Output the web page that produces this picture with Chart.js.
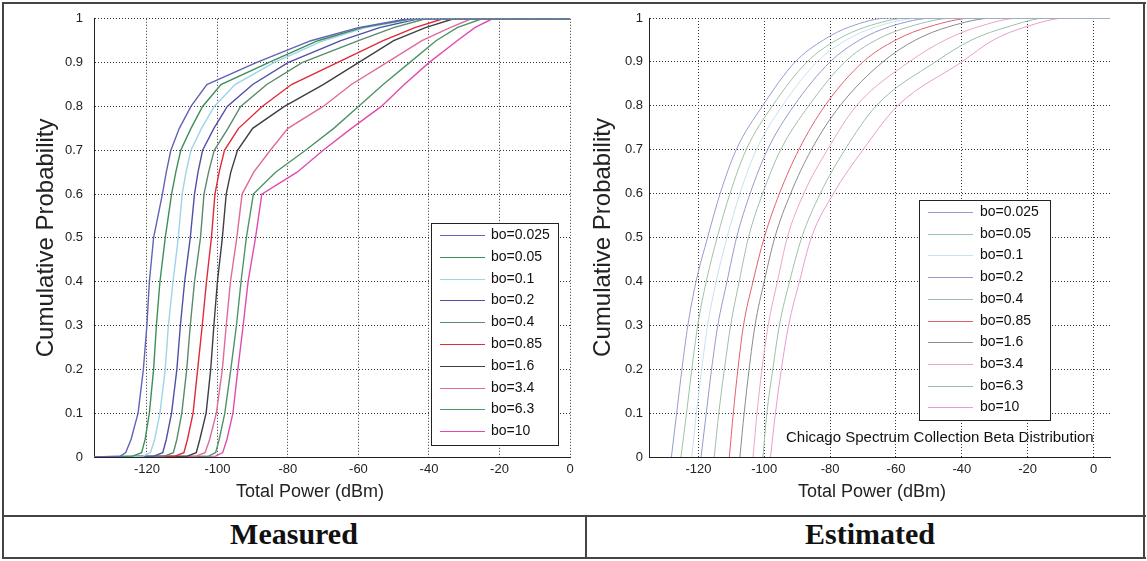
<!DOCTYPE html>
<html>
<head>
<meta charset="utf-8">
<script src="https://cdn.jsdelivr.net/npm/chart.js@4.4.1/dist/chart.umd.min.js"></script>
<style>
html, body { margin: 0; padding: 0; background: #fff; }
body { width: 1147px; height: 561px; position: relative; overflow: hidden; }
.cv { position: absolute; top: 0; height: 514px; }
#leftBox { left: 0; width: 580px; }
#rightBox { left: 586px; width: 561px; }
.rule { position: absolute; background: #444; z-index: 5; }
.cap { position: absolute; top: 517px; height: 40px; line-height: 40px; text-align: center;
       font: bold 30px "Liberation Serif", "Times New Roman", serif; color: #111; }
</style>
</head>
<body>
<div class="cv" id="leftBox"><canvas id="chart1"></canvas></div>
<div class="cv" id="rightBox"><canvas id="chart2"></canvas></div>

<div class="rule" style="left:2px;top:2px;width:1144px;height:2px"></div>
<div class="rule" style="left:2px;top:2px;width:2px;height:557px"></div>
<div class="rule" style="left:1143px;top:2px;width:2px;height:557px"></div>
<div class="rule" style="left:2px;top:557px;width:1144px;height:2px"></div>
<div class="rule" style="left:2px;top:515px;width:1144px;height:2px"></div>
<div class="rule" style="left:585px;top:515px;width:2px;height:43px"></div>

<div class="cap" style="left:4px;width:580px">Measured</div>
<div class="cap" style="left:588px;width:564px">Estimated</div>

<script>
// series names
const boLabels = ['bo=0.025', 'bo=0.05', 'bo=0.1', 'bo=0.2', 'bo=0.4',
                  'bo=0.85', 'bo=1.6', 'bo=3.4', 'bo=6.3', 'bo=10'];

const xTicks = [-120, -100, -80, -60, -40, -20, 0];

// measured CDFs: power (dBm) at which each probability level is reached
const measProb = [0.002, 0.01, 0.04, 0.1, 0.2, 0.3, 0.4, 0.5, 0.6, 0.65, 0.7, 0.75, 0.8, 0.85, 0.9, 0.95, 0.98, 1];
const meas025 = [-127.5, -126, -124.5, -122.5, -121, -120, -119.3, -118.1, -115.6, -114.5, -113.2, -110.8, -107.5, -103, -89, -73.5, -60, -46];
const meas05  = [-124, -121.5, -120.5, -119.3, -118.1, -117.3, -116.3, -114.8, -113, -111.8, -110.4, -107.5, -104.2, -99, -85.5, -71.5, -59, -45];
const meas1   = [-121, -119, -117.8, -116.3, -114.8, -113.9, -112.6, -111.1, -110, -108.9, -107.5, -104.5, -100.9, -95, -84, -70, -58, -44];
const meas2   = [-118, -115.5, -114.5, -113, -111.5, -110.5, -109.3, -107.7, -106.5, -105.5, -104.2, -101, -97.2, -90, -80, -65, -54, -43];
const meas4   = [-115, -112.5, -111.5, -110.1, -108.7, -107.7, -106.5, -104.8, -103.8, -102.5, -100.9, -97, -93.4, -86, -76, -60, -50, -41];
const meas85  = [-112, -109.5, -108.5, -106.9, -105.6, -104.3, -103.1, -101.7, -100.7, -99.5, -98, -94, -87.3, -79, -66, -53, -44, -36];
const meas16  = [-108.5, -106, -105, -103.2, -101.9, -101, -100, -98.6, -97.5, -96.2, -94.3, -90, -81, -70, -60, -50, -41, -33];
const meas34  = [-106, -103.5, -102.2, -100.3, -98.6, -97.5, -96.3, -94.5, -93, -89.7, -85, -80, -70, -62, -52, -42, -34, -28];
const meas63  = [-102.5, -100.5, -99.5, -97.9, -96.2, -94.6, -93.3, -91.8, -89.8, -83.5, -75, -67, -60, -53, -45.5, -38, -32, -25];
const meas10  = [-100.5, -98.5, -97.3, -95.6, -94.2, -92.7, -91.3, -89.2, -87.4, -77.4, -70, -62, -53.5, -47, -40, -32, -27, -22];

// estimated (beta distribution) CDFs
const estProb = [0, 0.1, 0.2, 0.3, 0.4, 0.5, 0.6, 0.7, 0.8, 0.9, 0.95, 0.98, 1];
const est025 = [-128.2, -126.6, -125.0, -123.2, -120.7, -117.2, -113.4, -108.5, -100.5, -90.6, -82, -74, -62];
const est05  = [-125.3, -123.6, -122.0, -120.2, -117.6, -114.3, -110.4, -105.5, -97.5, -87, -78, -69, -56];
const est1   = [-122.0, -120.6, -119.0, -117.2, -114.6, -111.3, -107.4, -102.4, -94.5, -84, -75, -66, -52];
const est2   = [-119.2, -117.6, -116.0, -114.1, -111.3, -108.4, -104.3, -99, -91, -80, -71, -62, -48];
const est4   = [-115.2, -113.8, -112.1, -110.2, -107.6, -104.8, -100.5, -95, -86.5, -75.5, -66, -56, -42];
const est85  = [-110.6, -109.4, -108.0, -106.3, -103.4, -100.0, -95.4, -89.5, -81.6, -70, -60, -50, -36];
const est16  = [-107.4, -106.1, -104.6, -102.8, -100.0, -96.8, -92.0, -85.7, -77, -64, -54, -44, -30];
const est34  = [-103.4, -102.2, -100.7, -98.8, -96.0, -93.0, -88.0, -80.8, -72, -56, -45, -35, -22];
const est63  = [-100.4, -99.2, -97.4, -95.4, -92.3, -88.6, -83, -75.5, -66, -48, -37, -26, -14];
const est10  = [-98.1, -96.6, -94.8, -92.6, -89.3, -85.7, -79, -70, -59.5, -40, -30.4, -20.5, -8];

const measColors = ['#6262b8', '#3d8f5a', '#9fd3e6', '#5050a8', '#5a8a6c',
                    '#e02a3a', '#3e3e46', '#e06a9c', '#4e9466', '#e04cac'];
const estColors  = ['#9a9ad0', '#9cc4a8', '#c6e2ec', '#9898cc', '#a2bcac',
                    '#e2606c', '#8a8a92', '#eaa6c4', '#9cc0a6', '#ea9cd0'];

const measuredX = [meas025, meas05, meas1, meas2, meas4, meas85, meas16, meas34, meas63, meas10];
const estimatedX = [est025, est05, est1, est2, est4, est85, est16, est34, est63, est10];

const FONT = '"Liberation Sans", Arial, Helvetica, sans-serif';

// legend box, x-axis title and note drawn inside the canvas, MATLAB style
const boxLegend = {
    id: 'boxLegend',
    afterDraw(chart, args, o) {
        const ctx = chart.ctx;
        ctx.save();
        ctx.fillStyle = '#222';
        ctx.textBaseline = 'middle';
        ctx.textAlign = 'center';
        ctx.font = '18px ' + FONT;
        ctx.fillText('Total Power (dBm)', o.titleX, 492);
        ctx.textAlign = 'left';
        if (o.note) {
            ctx.font = '15px ' + FONT;
            ctx.fillStyle = '#111';
            ctx.fillText(o.note, o.noteX, o.noteY);
        }
        ctx.fillStyle = '#fff';
        ctx.fillRect(o.x, o.y, o.w, o.h);
        ctx.strokeStyle = '#222';
        ctx.lineWidth = 1;
        ctx.strokeRect(o.x + 0.5, o.y + 0.5, o.w, o.h);
        ctx.font = o.fontSize + 'px ' + FONT;
        chart.data.datasets.forEach((ds, i) => {
            const y = Math.round(o.row0 + i * o.step) + 0.5;
            ctx.strokeStyle = ds.borderColor;
            ctx.lineWidth = 1;
            ctx.beginPath();
            ctx.moveTo(o.lineX0, y);
            ctx.lineTo(o.lineX1, y);
            ctx.stroke();
            ctx.fillStyle = '#111';
            ctx.fillText(ds.label, o.textX, y);
        });
        ctx.restore();
    }
};

function makeOptions(cfg) {
    return {
        responsive: true,
        maintainAspectRatio: false,
        animation: false,
        layout: { padding: { top: 18, right: cfg.padRight, left: 0, bottom: 0 } },
        scales: {
            x: {
                type: 'linear',
                min: -135,
                max: cfg.xMax,
                afterBuildTicks: s => { s.ticks = xTicks.map(v => ({ value: v })); },
                afterFit: s => { s.height = 57; },
                grid: { color: '#333', lineWidth: 1, drawTicks: false },
                border: { display: true, color: '#222', width: 1, dash: [1, 2] },
                ticks: { color: '#222', font: { family: FONT, size: 13 }, padding: 5, maxRotation: 0 },
                title: { display: false }
            },
            y: {
                min: 0,
                max: 1,
                afterFit: s => { s.width = cfg.yWidth; },
                grid: { color: '#333', lineWidth: 1, drawTicks: false },
                border: { display: true, color: '#222', width: 1, dash: [1, 2] },
                ticks: { stepSize: 0.1, color: '#222', font: { family: FONT, size: 13 }, padding: cfg.yTickPad,
                         callback: v => String(Number(v.toFixed(1))) },
                title: { display: true, text: 'Cumulative Probability', color: '#222',
                         font: { family: FONT, size: 24 }, padding: { top: cfg.yTitlePad, bottom: 0 } }
            }
        },
        plugins: {
            legend: { display: false },
            tooltip: { enabled: false },
            boxLegend: cfg.legend
        }
    };
}

const measuredSets = measuredX.map((xs, i) => ({
    label: boLabels[i],
    data: [{ x: -135, y: 0 }].concat(measProb.map((p, j) => ({ x: xs[j], y: p })), [{ x: 0, y: 1 }]),
    borderColor: measColors[i],
    borderWidth: 1.4,
    pointRadius: 0,
    tension: 0
}));

const estimatedSets = estimatedX.map((xs, i) => ({
    label: boLabels[i],
    data: estProb.map((p, j) => ({ x: xs[j], y: p })).concat([{ x: 5, y: 1 }]),
    borderColor: estColors[i],
    borderWidth: 1,
    pointRadius: 0,
    cubicInterpolationMode: 'monotone'
}));

new Chart(document.getElementById('chart1'), {
    type: 'line',
    data: { datasets: measuredSets },
    options: makeOptions({
        xMax: 0, padRight: 10, yWidth: 94, yTickPad: 11, yTitlePad: 32,
        legend: { x: 431, y: 223, w: 127, h: 222, row0: 235, step: 21.8,
                  lineX0: 440, lineX1: 485, textX: 491, fontSize: 14, titleX: 310 }
    }),
    plugins: [boxLegend]
});

new Chart(document.getElementById('chart2'), {
    type: 'line',
    data: { datasets: estimatedSets },
    options: makeOptions({
        xMax: 5, padRight: 37, yWidth: 63, yTickPad: 6, yTitlePad: 3,
        legend: { x: 333, y: 200, w: 131, h: 220, row0: 212, step: 21.7,
                  lineX0: 342, lineX1: 387, textX: 394, fontSize: 14, titleX: 286,
                  note: 'Chicago Spectrum Collection Beta Distribution', noteX: 200, noteY: 438 }
    }),
    plugins: [boxLegend]
});
</script>
</body>
</html>
